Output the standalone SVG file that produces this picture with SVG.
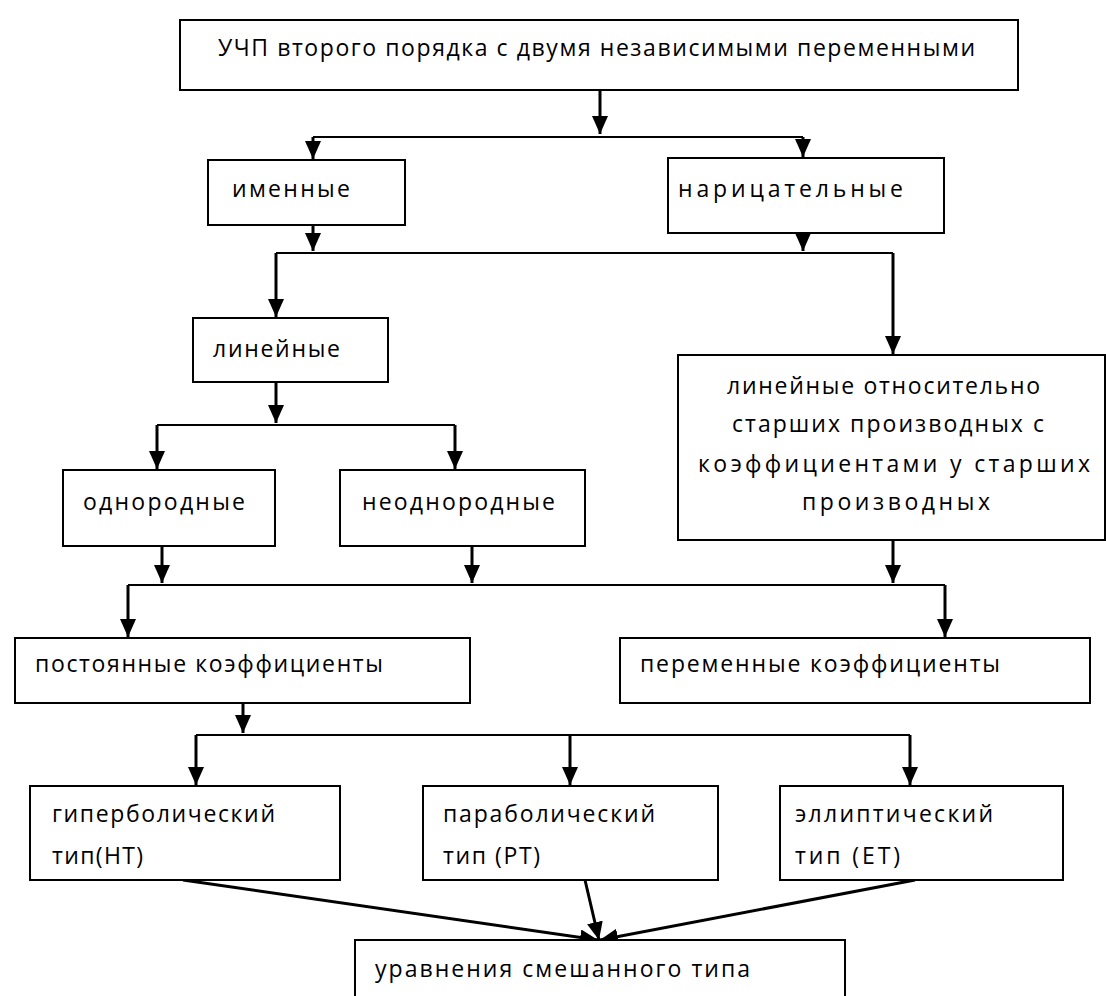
<svg xmlns="http://www.w3.org/2000/svg" width="1106" height="996" viewBox="0 0 1106 996">
<style>
.box{fill:#fff;stroke:#000;stroke-width:2}
.t{font-family:"Open Sans","Liberation Sans",sans-serif;font-size:23px;fill:#000}
.c{fill:none;stroke:#000;stroke-width:3}
.b{fill:none;stroke:#000;stroke-width:2}
</style>
<defs>
<marker id="ah" markerUnits="userSpaceOnUse" markerWidth="20" markerHeight="18" refX="18" refY="8" orient="auto">
<path d="M0,0 L18,8 L0,16 Z" fill="#000"/>
</marker>
</defs>
<rect width="1106" height="996" fill="#fff"/>
<g id="connectors">
<path class="c" d="M600,90 V134" marker-end="url(#ah)"/>
<path class="b" d="M313,137 H803"/>
<path class="c" d="M313,137 V159" marker-end="url(#ah)"/>
<path class="c" d="M803,137 V157" marker-end="url(#ah)"/>
<path class="c" d="M313,225 V251" marker-end="url(#ah)"/>
<path class="c" d="M803,233 V251" marker-end="url(#ah)"/>
<path class="b" d="M276,253 H893"/>
<path class="c" d="M276,253 V317" marker-end="url(#ah)"/>
<path class="c" d="M893,253 V354" marker-end="url(#ah)"/>
<path class="c" d="M276,382 V423" marker-end="url(#ah)"/>
<path class="b" d="M157,425 H455"/>
<path class="c" d="M157,425 V469" marker-end="url(#ah)"/>
<path class="c" d="M455,425 V469" marker-end="url(#ah)"/>
<path class="c" d="M162,546 V583" marker-end="url(#ah)"/>
<path class="c" d="M472,546 V583" marker-end="url(#ah)"/>
<path class="c" d="M893,540 V583" marker-end="url(#ah)"/>
<path class="b" d="M128,585 H945"/>
<path class="c" d="M128,585 V637" marker-end="url(#ah)"/>
<path class="c" d="M945,585 V637" marker-end="url(#ah)"/>
<path class="c" d="M243,703 V733" marker-end="url(#ah)"/>
<path class="b" d="M196,735 H910"/>
<path class="c" d="M196,735 V785" marker-end="url(#ah)"/>
<path class="c" d="M570,735 V785" marker-end="url(#ah)"/>
<path class="c" d="M910,735 V785" marker-end="url(#ah)"/>
<path class="c" d="M183,880 L598,940" marker-end="url(#ah)"/>
<path class="c" d="M585,880 L599,940" marker-end="url(#ah)"/>
<path class="c" d="M915,880 L600,940" marker-end="url(#ah)"/>
</g>
<g id="n-top"><rect class="box" x="180" y="20" width="838" height="70"/><text class="t" x="218" y="56" textLength="757" lengthAdjust="spacing">УЧП второго порядка с двумя независимыми переменными</text></g>
<g id="n-imennye"><rect class="box" x="208" y="160" width="197" height="65"/><text class="t" x="232" y="197" textLength="118" lengthAdjust="spacing">именные</text></g>
<g id="n-naritsatelnye"><rect class="box" x="668" y="158" width="276" height="75"/><text class="t" x="678" y="197" textLength="225" lengthAdjust="spacing">нарицательные</text></g>
<g id="n-lineynye"><rect class="box" x="193" y="318" width="195" height="64"/><text class="t" x="213" y="357" textLength="127" lengthAdjust="spacing">линейные</text></g>
<g id="n-kvazi"><rect class="box" x="678" y="355" width="427" height="185"/>
<text class="t" x="727" y="394" textLength="313" lengthAdjust="spacing">линейные относительно</text>
<text class="t" x="732" y="432" textLength="312" lengthAdjust="spacing">старших производных с</text>
<text class="t" x="698" y="472" textLength="392" lengthAdjust="spacing">коэффициентами у старших</text>
<text class="t" x="802" y="510" textLength="188" lengthAdjust="spacing">производных</text></g>
<g id="n-odnorodnye"><rect class="box" x="63" y="470" width="212" height="76"/><text class="t" x="83" y="510" textLength="162" lengthAdjust="spacing">однородные</text></g>
<g id="n-neodnorodnye"><rect class="box" x="340" y="470" width="245" height="76"/><text class="t" x="362" y="510" textLength="193" lengthAdjust="spacing">неоднородные</text></g>
<g id="n-postoyannye"><rect class="box" x="15" y="638" width="455" height="65"/><text class="t" x="35" y="672" textLength="348" lengthAdjust="spacing">постоянные коэффициенты</text></g>
<g id="n-peremennye"><rect class="box" x="620" y="638" width="470" height="65"/><text class="t" x="640" y="672" textLength="360" lengthAdjust="spacing">переменные коэффициенты</text></g>
<g id="n-hyper"><rect class="box" x="30" y="786" width="310" height="94"/><text class="t" x="52" y="822" textLength="223" lengthAdjust="spacing">гиперболический</text><text class="t" x="52" y="864" textLength="91" lengthAdjust="spacing">тип(НТ)</text></g>
<g id="n-parab"><rect class="box" x="423" y="786" width="295" height="94"/><text class="t" x="443" y="822" textLength="212" lengthAdjust="spacing">параболический</text><text class="t" x="443" y="864" textLength="97" lengthAdjust="spacing">тип (РТ)</text></g>
<g id="n-ellipt"><rect class="box" x="780" y="786" width="283" height="94"/><text class="t" x="795" y="822" textLength="198" lengthAdjust="spacing">эллиптический</text><text class="t" x="795" y="864" textLength="105" lengthAdjust="spacing">тип (ЕТ)</text></g>
<g id="n-mixed"><rect class="box" x="355" y="940" width="490" height="70"/><text class="t" x="375" y="977" textLength="375" lengthAdjust="spacing">уравнения смешанного типа</text></g>
</svg>
